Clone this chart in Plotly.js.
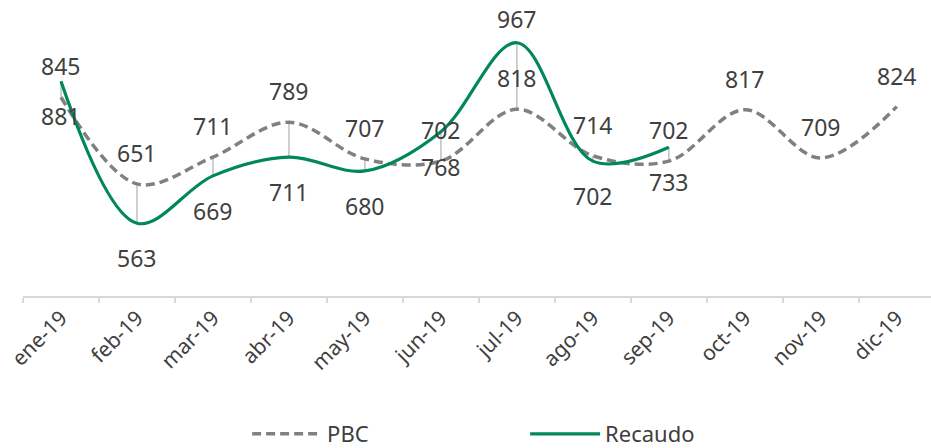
<!DOCTYPE html>
<html>
<head>
<meta charset="utf-8">
<script src="https://cdn.plot.ly/plotly-3.0.1.min.js"></script>
<style>html,body{margin:0;padding:0;background:#fff;overflow:hidden}#chart{width:931px;height:448px}</style>
</head>
<body>
<div id="chart"></div>
<script>
const months = ["ene-19","feb-19","mar-19","abr-19","may-19","jun-19","jul-19","ago-19","sep-19","oct-19","nov-19","dic-19"];
const pbc = [845, 651, 711, 789, 707, 702, 818, 714, 702, 817, 709, 824];
const recaudo = [881, 563, 669, 711, 680, 768, 967, 702, 733, null, null, null];

const FONT = "Noto Sans, DejaVu Sans, sans-serif";
const TXT = "#404040";

// high-low drop lines between the two series
const dx = [], dy = [];
months.forEach((m, i) => {
  if (pbc[i] != null && recaudo[i] != null) {
    dx.push(m, m, null);
    dy.push(pbc[i], recaudo[i], null);
  }
});

const traces = [
  {x: dx, y: dy, type: "scatter", mode: "lines", line: {color: "#c0c0c0", width: 1.5},
   hoverinfo: "skip", showlegend: false},
  {x: months, y: pbc, name: "PBC", type: "scatter", mode: "lines",
   line: {color: "#808080", width: 3.5, dash: "9px,5px", shape: "spline", smoothing: 1}},
  {x: months.slice(0, 9), y: recaudo.slice(0, 9), name: "Recaudo", type: "scatter", mode: "lines",
   line: {color: "#00875a", width: 3.2, shape: "spline", smoothing: 1}}
];

const annotations = [];
pbc.forEach((v, i) => {
  if (v == null) return;
  annotations.push({x: months[i], y: v, text: String(v), showarrow: false, yanchor: "middle",
    yshift: 31, font: {family: FONT, size: 23, color: TXT}});
});
recaudo.forEach((v, i) => {
  if (v == null) return;
  const above = v >= 950;
  annotations.push({x: months[i], y: v, text: String(v), showarrow: false, yanchor: "middle",
    yshift: above ? 24 : -35, font: {family: FONT, size: 23, color: TXT}});
});

const layout = {
  width: 931, height: 448,
  margin: {l: 23, r: 0, t: 28, b: 152, autoexpand: false},
  paper_bgcolor: "#fff", plot_bgcolor: "#fff",
  font: {family: FONT, color: TXT},
  showlegend: true,
  legend: {orientation: "h", x: 0.553, xanchor: "center", y: -0.515, yanchor: "middle",
    font: {family: FONT, size: 22, color: TXT}, entrywidth: 193, entrywidthmode: "pixels",
    itemwidth: 70},
  xaxis: {type: "category", range: [-0.5, 11.45], showgrid: false, zeroline: false,
    showline: true, linecolor: "#d9d9d9", linewidth: 1.5,
    ticks: "outside", ticklen: 5, tickcolor: "#d9d9d9", tickwidth: 1.5, tickson: "boundaries",
    tickangle: -45, automargin: false, fixedrange: true,
    tickfont: {family: FONT, size: 21, color: TXT}},
  yaxis: {range: [400, 1000], visible: false, fixedrange: true},
  annotations: annotations
};

Plotly.newPlot("chart", traces, layout, {displayModeBar: false, staticPlot: true});
</script>
</body>
</html>
